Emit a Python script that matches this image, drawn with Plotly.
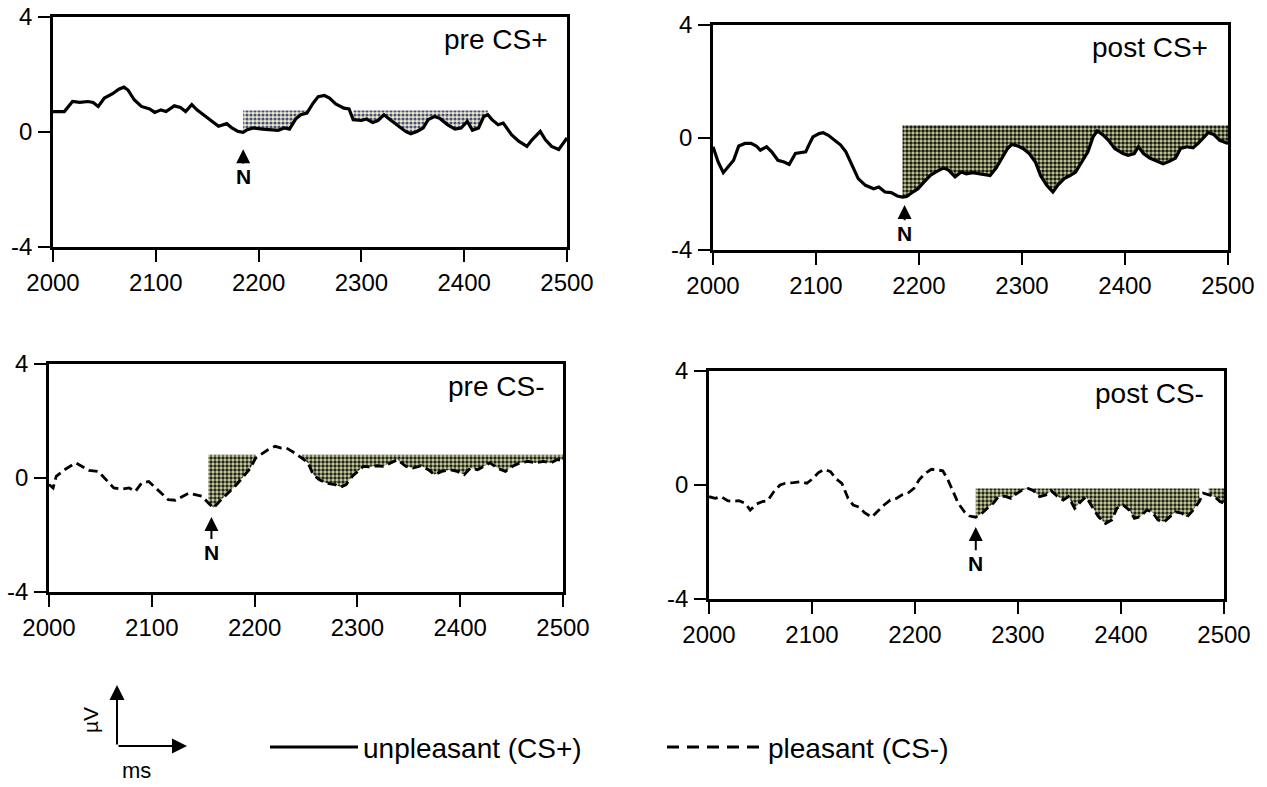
import plotly.graph_objects as go

W, H = 1267, 787

# ---------------- data ----------------
pre_cs_plus_t = [2000,2011,2019,2026,2034,2039,2044,2050,2058,2064,2069,2073,2079,2086,2094,2099,2105,2110,2118,2124,
                 2129,2135,2140,2148,2154,2161,2169,2174,2180,2185,2189,2195,2204,2212,2219,2225,2230,2236,2241,2247,
                 2253,2258,2264,2269,2275,2283,2288,2292,2300,2305,2311,2316,2322,2328,2335,2343,2348,2354,2360,2365,
                 2371,2376,2384,2391,2397,2403,2408,2414,2419,2423,2427,2433,2438,2446,2453,2461,2466,2474,2479,2485,
                 2492,2500]
pre_cs_plus_v = [0.71,0.71,1.06,1.03,1.06,1.03,0.89,1.18,1.33,1.49,1.56,1.46,1.12,0.89,0.80,0.68,0.77,0.71,0.91,0.85,
                 0.71,0.95,0.77,0.54,0.37,0.20,0.29,0.14,0.02,-0.01,0.08,0.14,0.10,0.08,0.06,0.14,0.10,0.45,0.60,0.66,
                 1.00,1.23,1.27,1.18,0.98,0.83,0.80,0.43,0.40,0.45,0.33,0.40,0.60,0.43,0.25,0.02,-0.06,0.02,0.14,0.43,
                 0.54,0.48,0.25,0.10,0.14,0.37,0.06,0.14,0.54,0.60,0.43,0.25,0.31,-0.09,-0.32,-0.50,-0.27,0.02,-0.27,-0.50,
                 -0.61,-0.21]

post_cs_plus_t = [2000,2005,2010,2016,2020,2025,2031,2037,2042,2046,2052,2057,2063,2069,2074,2080,2090,2093,2097,2103,
                  2107,2112,2118,2124,2129,2135,2141,2148,2156,2161,2167,2173,2179,2184,2188,2194,2199,2205,2211,2216,
                  2224,2229,2235,2241,2246,2252,2258,2263,2269,2275,2280,2286,2290,2296,2301,2307,2313,2318,2324,2330,
                  2335,2341,2347,2352,2358,2364,2369,2373,2379,2384,2390,2398,2403,2409,2413,2418,2424,2432,2437,2443,
                  2449,2454,2460,2466,2471,2477,2481,2486,2492,2500]
post_cs_plus_v = [-0.33,-0.87,-1.25,-0.99,-0.81,-0.30,-0.21,-0.21,-0.30,-0.45,-0.33,-0.51,-0.81,-0.87,-0.96,-0.57,-0.51,-0.27,0.02,0.14,
                  0.17,0.08,-0.10,-0.27,-0.51,-0.99,-1.46,-1.70,-1.82,-1.76,-1.94,-1.96,-2.08,-2.12,-2.10,-1.94,-1.82,-1.58,-1.35,-1.23,
                  -1.08,-1.17,-1.40,-1.23,-1.29,-1.25,-1.29,-1.32,-1.35,-1.08,-0.75,-0.39,-0.25,-0.30,-0.39,-0.57,-0.87,-1.35,-1.70,-1.94,
                  -1.68,-1.46,-1.35,-1.23,-0.87,-0.51,0.02,0.23,0.08,-0.10,-0.39,-0.57,-0.63,-0.57,-0.33,-0.57,-0.73,-0.87,-0.93,-0.85,
                  -0.73,-0.39,-0.33,-0.37,-0.21,0.02,0.18,0.11,-0.10,-0.21]

pre_cs_minus_t = [2000,2004,2007,2015,2026,2032,2039,2048,2056,2063,2071,2078,2084,2090,2097,2104,2110,2116,2123,2131,
                  2136,2142,2149,2155,2160,2166,2173,2181,2188,2196,2201,2209,2213,2220,2226,2231,2239,2246,2252,2257,
                  2263,2270,2278,2284,2289,2295,2300,2306,2311,2319,2325,2332,2339,2347,2354,2362,2369,2375,2382,2390,
                  2397,2404,2410,2417,2423,2429,2436,2444,2451,2458,2466,2473,2481,2488,2494,2500]
pre_cs_minus_v = [-0.23,-0.35,0.06,0.29,0.53,0.41,0.27,0.23,-0.06,-0.35,-0.39,-0.35,-0.47,-0.18,-0.12,-0.35,-0.58,-0.76,-0.78,-0.64,
                  -0.53,-0.58,-0.64,-0.88,-1.05,-0.82,-0.58,-0.29,0.0,0.35,0.70,0.88,0.99,1.11,1.05,1.05,0.88,0.70,0.53,0.12,
                  -0.06,-0.18,-0.23,-0.32,-0.23,0.06,0.23,0.41,0.39,0.43,0.41,0.53,0.64,0.41,0.35,0.43,0.29,0.12,0.23,0.29,
                  0.23,0.12,0.35,0.29,0.41,0.53,0.35,0.23,0.41,0.53,0.58,0.53,0.58,0.53,0.64,0.64]

post_cs_minus_t = [2000,2006,2012,2018,2023,2029,2035,2040,2046,2052,2057,2063,2069,2074,2082,2089,2095,2101,2106,2112,
                   2118,2123,2129,2135,2140,2146,2151,2158,2165,2170,2176,2182,2187,2193,2199,2204,2210,2216,2221,2227,
                   2232,2238,2242,2248,2253,2259,2265,2270,2276,2281,2287,2293,2298,2304,2310,2315,2321,2327,2332,2338,
                   2344,2349,2355,2361,2366,2372,2378,2385,2391,2396,2402,2408,2413,2419,2425,2430,2436,2442,2447,2453,
                   2459,2464,2470,2476,2480,2485,2491,2496,2500]
post_cs_minus_v = [-0.41,-0.47,-0.41,-0.55,-0.58,-0.55,-0.64,-0.88,-0.67,-0.58,-0.55,-0.23,0.0,0.06,0.08,0.12,0.06,0.23,0.43,0.55,
                   0.47,0.23,0.06,-0.47,-0.70,-0.78,-0.97,-1.13,-0.88,-0.70,-0.53,-0.47,-0.35,-0.29,-0.12,0.18,0.41,0.55,0.53,0.50,
                   0.18,-0.29,-0.64,-0.94,-1.09,-1.13,-0.99,-0.82,-0.64,-0.41,-0.39,-0.47,-0.32,-0.18,-0.12,-0.20,-0.41,-0.35,-0.20,-0.39,
                   -0.53,-0.41,-0.82,-0.58,-0.41,-0.76,-1.11,-1.35,-1.23,-0.82,-0.70,-0.88,-1.17,-1.11,-0.88,-0.94,-1.23,-1.29,-1.13,-0.94,
                   -0.99,-1.13,-0.88,-0.58,-0.29,-0.35,-0.41,-0.58,-0.64]

panel_titles = ["pre CS+", "post CS+", "pre CS-", "post CS-"]
# shaded intervals (start ms, end ms) and the flat upper level (µV)
shade_intervals = [[(2185, 2247), (2292, 2423)], [(2184, 2500)], [(2155, 2201), (2246, 2500)], [(2259, 2476), (2485, 2500)]]
shade_levels = [0.75, 0.44, 0.82, -0.12]
# N marker: onset time, arrow tip µV, label µV
n_time = [2185, 2186, 2158, 2259]
n_tip = [-0.6, -2.4, -1.37, -1.47]
n_label = [-1.55, -3.4, -2.6, -2.75]

x_ticks = [2000, 2100, 2200, 2300, 2400, 2500]
x_ticktext = ["2000", "2100", "2200", "2300", "2400", "2500"]
y_ticks = [-4, 0, 4]
y_ticktext = ["-4", "0", "4"]
legend_labels = ["unpleasant (CS+)", "pleasant (CS-)"]

# ---------------- layout geometry (pixels) ----------------
panel_px = [(53, 567, 17, 247), (713, 1228, 25, 250), (49, 563, 364, 592), (709, 1224, 371, 599)]
fill_styles = [
    dict(shape=".", fgcolor="#4a4f80", bgcolor="#eceec6", size=4, solidity=0.5),
    dict(shape=".", fgcolor="#1c1e14", bgcolor="#cfd29c", size=4, solidity=0.62),
    dict(shape=".", fgcolor="#22251a", bgcolor="#d6d8a6", size=4, solidity=0.58),
    dict(shape=".", fgcolor="#22251a", bgcolor="#d6d8a6", size=4, solidity=0.58),
]
series = [(pre_cs_plus_t, pre_cs_plus_v, "solid"), (post_cs_plus_t, post_cs_plus_v, "solid"),
          (pre_cs_minus_t, pre_cs_minus_v, "dash"), (post_cs_minus_t, post_cs_minus_v, "dash")]

FONT = "Liberation Sans, Arial, Helvetica, sans-serif"
fig = go.Figure()
annotations = []
shapes = []

for i, ((x0, x1, y0, y1), (ts, vs, style)) in enumerate(zip(panel_px, series)):
    k = "" if i == 0 else str(i + 1)
    xa, ya = "x" + k, "y" + k
    # shaded areas
    for (a, b) in shade_intervals[i]:
        sub_t = [t for t in ts if a <= t <= b]
        sub_v = [v for t, v in zip(ts, vs) if a <= t <= b]
        lvl = shade_levels[i]
        fig.add_trace(go.Scatter(x=[sub_t[0], sub_t[-1]], y=[lvl, lvl], mode="lines",
                                 line=dict(width=0, color="rgba(0,0,0,0)"), xaxis=xa, yaxis=ya,
                                 showlegend=False, hoverinfo="skip"))
        fig.add_trace(go.Scatter(x=sub_t, y=sub_v, mode="lines", line=dict(width=0, color="rgba(0,0,0,0)"),
                                 fill="tonexty", fillcolor="rgba(0,0,0,0)", fillpattern=fill_styles[i],
                                 xaxis=xa, yaxis=ya, showlegend=False, hoverinfo="skip"))
    # the curve
    if style == "solid":
        ln = dict(color="black", width=3.2)
    else:
        ln = dict(color="black", width=2.8, dash="9px,5px")
    fig.add_trace(go.Scatter(x=ts, y=vs, mode="lines", line=ln, xaxis=xa, yaxis=ya,
                             showlegend=False, hoverinfo="skip"))

    axis_common = dict(showline=True, mirror=True, linecolor="black", linewidth=2.5,
                       ticks="outside", ticklen=12, tickwidth=2, tickcolor="black",
                       showgrid=False, zeroline=False, automargin=False,
                       tickfont=dict(family=FONT, size=24, color="black"))
    fig.update_layout(**{
        "xaxis" + k: dict(domain=[x0 / W, x1 / W], range=[2000, 2500], tickvals=x_ticks,
                          ticktext=x_ticktext, anchor=ya, **axis_common),
        "yaxis" + k: dict(domain=[1 - y1 / H, 1 - y0 / H], range=[-4, 4], tickvals=y_ticks,
                          ticktext=y_ticktext, anchor=xa, ticklabelstandoff=1, **axis_common),
    })
    # panel title
    annotations.append(dict(x=2483, y=3.2, xref=xa, yref=ya, text=panel_titles[i], showarrow=False,
                            xanchor="right", yanchor="middle",
                            font=dict(family=FONT, size=28, color="black")))
    # N marker
    annotations.append(dict(x=n_time[i], y=n_tip[i], ax=n_time[i], ay=n_label[i], xref=xa, yref=ya,
                            axref=xa, ayref=ya, text="<b>N</b>", showarrow=True, arrowhead=2,
                            arrowsize=1.4, arrowwidth=2, arrowcolor="black", standoff=0,
                            xanchor="center", yanchor="middle",
                            font=dict(family=FONT, size=21, color="black")))

# ---------------- bottom key ----------------
def px(xp):
    return xp / W

def py(yp):
    return 1 - yp / H

annotations.append(dict(x=px(117), y=py(685), xref="paper", yref="paper", ax=0, ay=61,
                        text="", showarrow=True, arrowhead=2, arrowsize=1.5, arrowwidth=2, arrowcolor="black"))
annotations.append(dict(x=px(187), y=py(746), xref="paper", yref="paper", ax=-70, ay=0,
                        text="", showarrow=True, arrowhead=2, arrowsize=1.5, arrowwidth=2, arrowcolor="black"))
annotations.append(dict(x=px(90), y=py(720), xref="paper", yref="paper", text="µV", textangle=-90,
                        xanchor="center", yanchor="middle",
                        showarrow=False, font=dict(family=FONT, size=21, color="black")))
annotations.append(dict(x=px(136), y=py(770), xref="paper", yref="paper", text="ms",
                        xanchor="center", yanchor="middle",
                        showarrow=False, font=dict(family=FONT, size=22, color="black")))

shapes.append(dict(type="line", xref="paper", yref="paper", x0=px(270), x1=px(358), y0=py(747), y1=py(747),
                   line=dict(color="black", width=3)))
shapes.append(dict(type="line", xref="paper", yref="paper", x0=px(667), x1=px(765), y0=py(747), y1=py(747),
                   line=dict(color="black", width=3, dash="12px,8px")))
annotations.append(dict(x=px(361), y=py(748), xref="paper", yref="paper", text=legend_labels[0],
                        xanchor="left", yanchor="middle", showarrow=False,
                        font=dict(family=FONT, size=28, color="black")))
annotations.append(dict(x=px(766), y=py(748), xref="paper", yref="paper", text=legend_labels[1],
                        xanchor="left", yanchor="middle", showarrow=False,
                        font=dict(family=FONT, size=28, color="black")))

fig.update_layout(template="none", width=W, height=H, margin=dict(l=0, r=0, t=0, b=0, autoexpand=False),
                  paper_bgcolor="white", plot_bgcolor="white", showlegend=False,
                  annotations=annotations, shapes=shapes)

fig.write_html("out.html")
